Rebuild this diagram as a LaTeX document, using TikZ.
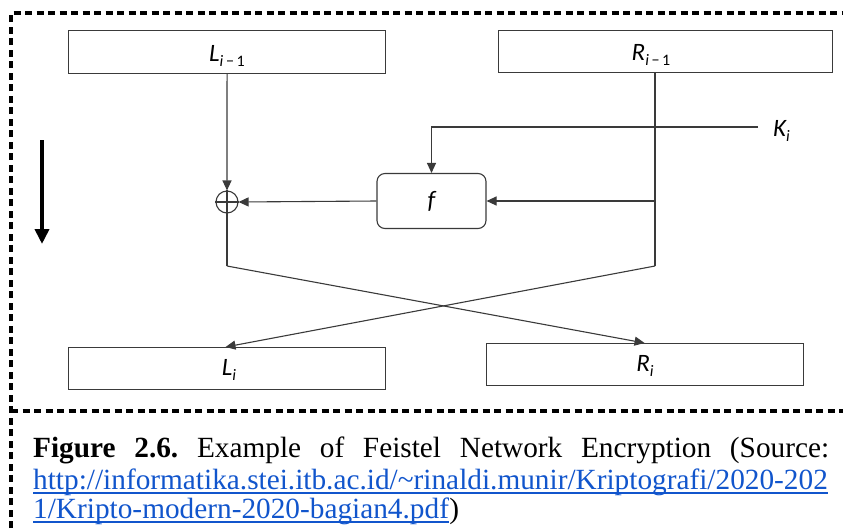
\documentclass[tikz,border=0pt]{standalone}
\usepackage{fontspec}
\setmainfont{Liberation Serif}
\newfontfamily\lab{Carlito}
\usetikzlibrary{arrows.meta}
\definecolor{linkblue}{HTML}{1155CC}
\definecolor{wire}{HTML}{3A3A3A}
\newcommand{\subtxt}[1]{\raisebox{-5pt}{\fontsize{16}{16}\selectfont #1}}
\frenchspacing
\begin{document}
\begin{tikzpicture}[x=1pt,y=-1pt,
  blockbox/.style={draw=wire, line width=1.1pt, inner sep=0pt, anchor=north west},
  fbox/.style={draw=wire, line width=1.1pt, inner sep=0pt, rounded corners=8pt,
    minimum width=109pt, minimum height=55pt, font=\lab\itshape\fontsize{25}{25}\selectfont},
  varlabel/.style={inner sep=0pt, anchor=base, font=\lab\itshape\fontsize{25}{25}\selectfont},
  wireline/.style={draw=wire, line width=1.1pt},
  arr/.style={wireline, -{Triangle[length=10pt,width=9pt]}},
  dashframe/.style={draw=black, line width=3.5pt, dash pattern=on 7pt off 4.5pt},
  captext/.style={inner sep=0pt, anchor=base west, font=\fontsize{29.3}{31}\selectfont},
  linktext/.style={captext, text=linkblue},
  ulink/.style={draw=linkblue, line width=1.8pt}
]
\useasboundingbox (0,0) rectangle (843,528);

% dashed frame around figure and caption
\draw[dashframe] (11,528) -- (11,13) -- (843,13);
\draw[dashframe] (11,411) -- (843,411);

% the four half-blocks
\node[blockbox, minimum width=317pt, minimum height=43pt] (Lp) at (68,30) {};
\node[blockbox, minimum width=334pt, minimum height=42pt] (Rp) at (498,30) {};
\node[blockbox, minimum width=317pt, minimum height=42pt] (Li) at (68,347) {};
\node[blockbox, minimum width=317pt, minimum height=42pt] (Ri) at (486,343) {};

\node[varlabel] (tLp) at (227,61) {L\subtxt{i\,\upshape−\,1}};
\node[varlabel] (tRp) at (651,60) {R\subtxt{i\,\upshape−\,1}};
\node[varlabel] (tLi) at (229,375) {L\subtxt{i}};
\node[varlabel] (tRi) at (645,371) {R\subtxt{i}};

% round function and XOR
\node[fbox] (f) at (431.5,201) {f};
\node[circle, draw=wire, line width=1.1pt, minimum size=22pt, inner sep=0pt] (ox) at (227,202) {};
\draw[wire, line width=1.1pt] (ox.north) -- (ox.south) (ox.west) -- (ox.east);

% key input
\coordinate (kend) at (758,127);
\node[varlabel, anchor=base west] (tK) at (773,136) {K\subtxt{i}};

% right-half tap points
\coordinate (rtop) at (655,72);
\coordinate (rtap) at (655,266);
\coordinate (ltap) at (227,266);

% connectors
\draw[arr] (Lp.south) -- (ox.north);
\draw[wireline] (rtop) -- (rtap);
\draw[arr] (kend) -| (f.north);
\draw[arr] (f.east -| rtap) -- (f.east);
\draw[arr] (f.west) -- (ox.east);
\draw[wireline] (ox.south) -- (ltap);
\draw[arr] (ltap) -- ([xshift=-0.5pt]Ri.north);
\draw[arr] (rtap) -- ([xshift=-1.5pt]Li.north);

% direction arrow
\draw[line width=4.5pt, -{Triangle[length=15pt,width=14pt]}] (42,140) -- (42,244);

% caption
\node[captext] (c1) at (33,457) {\makebox[796pt][s]{\textbf{Figure 2.6.} Example of Feistel Network Encryption (Source:}};
\node[linktext] (c2) at (33,489) {http://informatika.stei.itb.ac.id/\textasciitilde rinaldi.munir/Kriptografi/2020-202};
\node[linktext] (c3) at (33,518) {1/Kripto-modern-2020-bagian4.pdf};
\node[captext, anchor=base west] (c4) at (c3.base east) {)};
\draw[ulink] ([yshift=-4pt]c2.base west) -- ([yshift=-4pt]c2.base east);
\draw[ulink] ([yshift=-4pt]c3.base west) -- ([yshift=-4pt]c3.base east);
\end{tikzpicture}
\end{document}
